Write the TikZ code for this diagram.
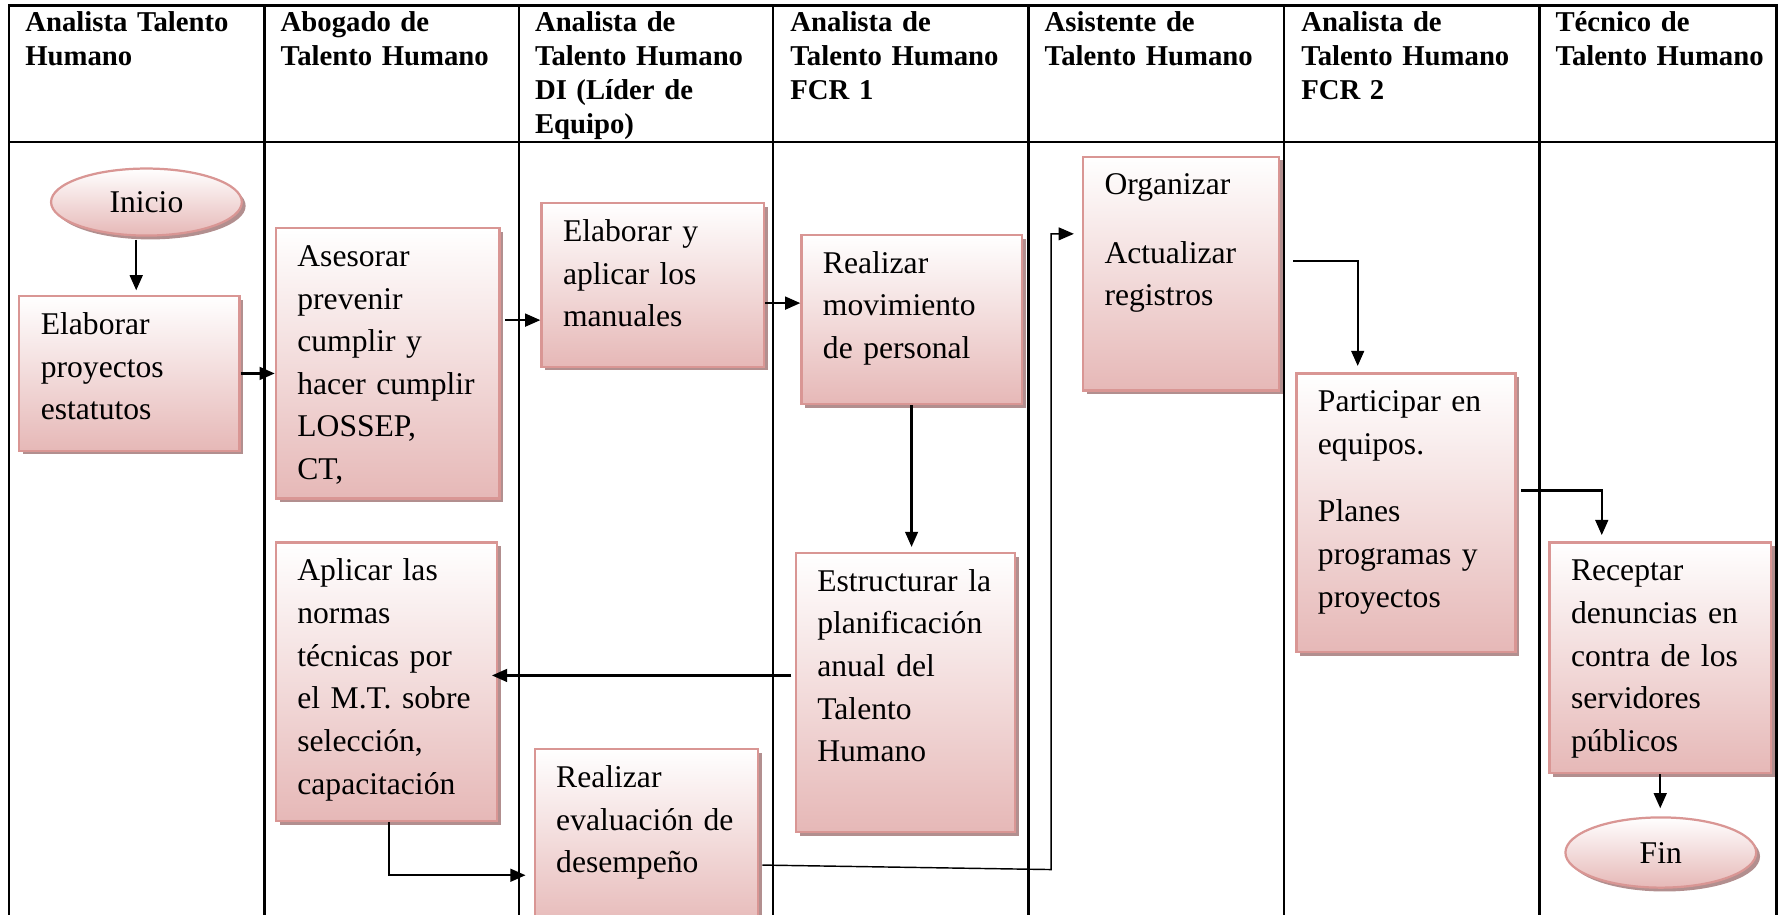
\documentclass[tikz,border=0pt]{standalone}
\usepackage{fontspec}
\setmainfont{Liberation Serif}
\usepackage{tikz}
\usetikzlibrary{arrows.meta,shapes.geometric,shadows}

\definecolor{boxPink}{RGB}{230,184,183}
\definecolor{boxBorder}{RGB}{217,150,148}
\definecolor{boxShadow}{RGB}{178,143,143}

\tikzset{
  laneHead/.style={anchor=base west, inner sep=0pt, align=left, text width=150pt,
    font=\fontsize{18}{21.3}\selectfont\bfseries},
  task/.style={rectangle, anchor=north west, draw=boxBorder, line width=1.4pt,
    top color=white, bottom color=boxPink,
    drop shadow={shadow xshift=2.4pt, shadow yshift=-2.4pt, fill=boxShadow, opacity=1},
    align=left, inner xsep=13.5pt, inner ysep=0pt, text height=24pt,
    font=\fontsize{19.8}{26.7}\selectfont},
  terminal/.style={ellipse, draw=boxBorder, line width=1.4pt,
    top color=white, bottom color=boxPink,
    drop shadow={shadow xshift=2.4pt, shadow yshift=-2.4pt, fill=boxShadow, opacity=1},
    inner sep=0pt, font=\fontsize{19.8}{26.7}\selectfont},
  flow/.style={-{Triangle[length=9.5pt,width=8pt]}, line width=1.4pt},
  grid/.style={line width=1.5pt}
}

\begin{document}
\begin{tikzpicture}[x=0.025cm, y=-0.025cm]
    \useasboundingbox (0,0) rectangle (1568,806);

    \draw[grid] (8,5) rectangle (1565,830);
    \draw[grid] (8,125) -- (1565,125);
    \foreach \x in {233,457,681,906,1131,1356}
      \draw[grid] (\x,5) -- (\x,830);

    \node[laneHead] (laneAnalista) at (22,28) {Analista Talento\\Humano};
    \node[laneHead] (laneAbogado) at (247,28) {Abogado de\\Talento Humano};
    \node[laneHead] (laneLider) at (471,28) {Analista de\\Talento Humano\\DI (Líder de\\Equipo)};
    \node[laneHead] (laneFcrUno) at (696,28) {Analista de\\Talento Humano\\FCR 1};
    \node[laneHead] (laneAsistente) at (920,28) {Asistente de\\Talento Humano};
    \node[laneHead] (laneFcrDos) at (1146,28) {Analista de\\Talento Humano\\FCR 2};
    \node[laneHead] (laneTecnico) at (1370,28) {Técnico de\\Talento Humano};

    \node[terminal, minimum width=119.5pt, minimum height=42pt] (inicio) at (129,178) {Inicio};
    \node[task, text width=111pt, text depth=72.7pt] (elaborarProyectos) at (16,260) {Elaborar\\proyectos\\estatutos};
    \node[task, text width=113.1pt, text depth=145.3pt] (asesorar) at (242,200) {Asesorar\\prevenir\\cumplir y\\hacer cumplir\\LOSSEP,\\CT,};
    \node[task, text width=111.7pt, text depth=150.3pt] (aplicarNormas) at (242,477) {Aplicar las\\normas\\técnicas por\\el M.T. sobre\\selección,\\capacitación};
    \node[task, text width=112.4pt, text depth=78.4pt] (elaborarManuales) at (476,178) {Elaborar y\\aplicar los\\manuales};
    \node[task, text width=113pt, text depth=89.8pt] (evaluacion) at (470,659) {Realizar\\evaluación de\\desempeño};
    \node[task, text width=111pt, text depth=82pt] (movimiento) at (705,206) {Realizar\\movimiento\\de personal};
    \node[task, text width=110.3pt, text depth=151pt] (estructurar) at (700,486) {Estructurar la\\planificación\\anual del\\Talento\\Humano};
    \node[task, text width=96pt, text depth=122.5pt] (organizar) at (953,137) {Organizar\\[16pt]Actualizar\\registros};
    \node[task, text width=110.3pt, text depth=150.3pt] (participar) at (1141,328) {Participar en\\equipos.\\[15.6pt]Planes\\programas y\\proyectos};
    \node[task, text width=111.7pt, text depth=120.4pt] (receptar) at (1364,477) {Receptar\\denuncias en\\contra de los\\servidores\\públicos};
    \node[terminal, minimum width=119.5pt, minimum height=44pt] (fin) at (1463,751) {Fin};

    \draw[flow, shorten <=2pt, shorten >=3pt] (inicio.south -| 120,0) -- (elaborarProyectos.north -| 120,0);
    \draw[flow] (elaborarProyectos.east) -- (asesorar.west |- elaborarProyectos.east);
    \draw[flow, shorten <=3pt] (asesorar.east |- 0,282) -- (elaborarManuales.west |- 0,282);
    \draw[flow] (elaborarManuales.east |- 0,267) -- (movimiento.west |- 0,267);
    \draw[flow, shorten >=3pt] (movimiento.south) -- (movimiento.south |- estructurar.north);
    \draw[flow, shorten <=2pt, shorten >=-4pt] (estructurar.west |- 0,595) -- (aplicarNormas.east |- 0,595);
    \draw[flow, shorten >=5pt] (aplicarNormas.south -| 343,0) |- (evaluacion.west |- 0,771);
    \draw[flow, line width=0.9pt, shorten <=2pt, shorten >=5pt] (evaluacion.east |- 0,762) -- (926,766) -- (926,206) -- (organizar.west |- 0,206);
    \draw[flow, shorten <=8pt, shorten >=4pt] (organizar.east |- 0,230) -| (participar.north -| 1196,0);
    \draw[flow, shorten <=3pt, shorten >=4pt] (participar.east |- 0,432) -| (receptar.north -| 1411,0);
    \draw[flow, shorten >=5pt] (receptar.south) -- (receptar.south |- fin.north);
\end{tikzpicture}
\end{document}
